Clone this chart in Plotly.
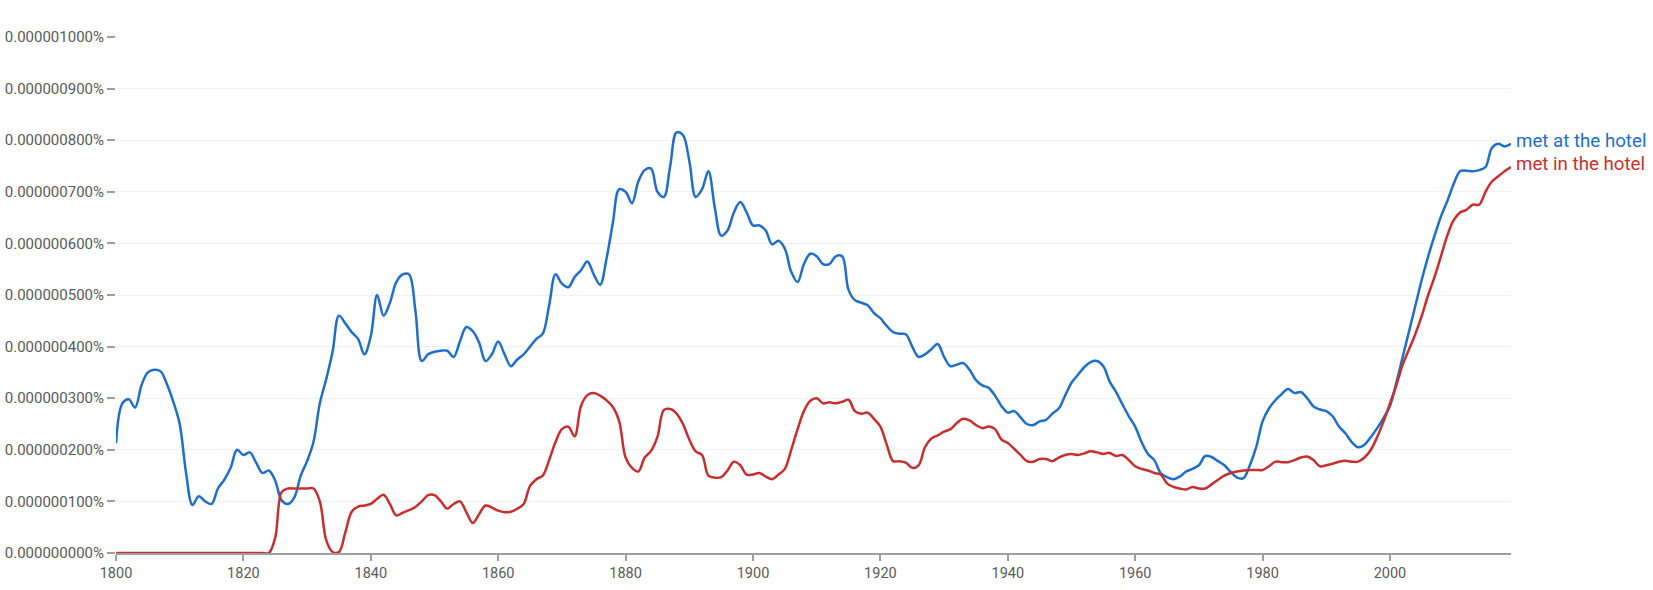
import plotly.graph_objects as go

# Years covered by the chart
years = list(range(1800, 2020))

# Values in units of 0.000000001 % (i.e. 1e-9 percent)
met_at_the_hotel = [
    213, 290, 298, 282, 325, 350, 355, 352, 327, 293,   # 1800-1809
    250, 155, 93, 110, 100, 95, 125, 142, 165, 200,      # 1810-1819
    190, 195, 175, 155, 160, 140, 102, 95, 108, 150,     # 1820-1829
    178, 215, 290, 337, 390, 460, 445, 428, 415, 385,    # 1830-1839
    420, 500, 460, 485, 525, 540, 540, 470, 372, 385,    # 1840-1849
    390, 392, 392, 380, 410, 438, 430, 408, 372, 385,    # 1850-1859
    410, 385, 362, 375, 385, 400, 415, 425, 480, 540,    # 1860-1869
    522, 515, 535, 548, 565, 540, 520, 570, 640, 705,    # 1870-1879
    700, 678, 720, 742, 745, 700, 690, 750, 815, 810,    # 1880-1889
    760, 690, 705, 740, 670, 615, 625, 660, 680, 660,    # 1890-1899
    635, 635, 625, 598, 605, 590, 545, 525, 560, 580,    # 1900-1909
    575, 560, 560, 575, 575, 510, 490, 485, 480, 465,    # 1910-1919
    455, 440, 428, 425, 424, 400, 380, 385, 395, 405,    # 1920-1929
    380, 362, 365, 368, 355, 335, 325, 320, 305, 285,    # 1930-1939
    272, 275, 263, 250, 248, 255, 258, 270, 280, 305,    # 1940-1949
    330, 345, 360, 370, 372, 362, 332, 312, 288, 265,    # 1950-1959
    245, 215, 192, 180, 155, 147, 143, 148, 158, 163,    # 1960-1969
    170, 188, 186, 178, 170, 157, 146, 145, 170, 205,    # 1970-1979
    255, 280, 296, 308, 318, 310, 312, 300, 284, 278,    # 1980-1989
    275, 265, 245, 232, 215, 205, 210, 225, 242, 262,    # 1990-1999
    285, 330, 380, 430, 480, 530, 575, 615, 652, 682,    # 2000-2009
    715, 740, 741, 740, 742, 748, 785, 793, 788, 793,    # 2010-2019
]

met_in_the_hotel = [
    0, 0, 0, 0, 0, 0, 0, 0, 0, 0,                        # 1800-1809
    0, 0, 0, 0, 0, 0, 0, 0, 0, 0,                        # 1810-1819
    0, 0, 0, 0, 0, 30, 118, 125, 125, 125,               # 1820-1829
    125, 125, 100, 25, 2, 2, 40, 80, 90, 92,             # 1830-1839
    95, 105, 113, 95, 73, 78, 83, 89, 100, 112,          # 1840-1849
    112, 100, 86, 95, 100, 79, 58, 75, 92, 88,           # 1850-1859
    82, 79, 80, 86, 95, 130, 143, 150, 180, 215,         # 1860-1869
    240, 245, 226, 285, 306, 310, 305, 296, 283, 255,    # 1870-1879
    185, 165, 158, 185, 198, 225, 277, 279, 270, 250,    # 1880-1889
    220, 197, 190, 150, 146, 147, 160, 177, 170, 152,    # 1890-1899
    152, 155, 148, 143, 152, 163, 200, 240, 275, 295,    # 1900-1909
    300, 290, 292, 290, 293, 297, 275, 270, 272, 260,    # 1910-1919
    245, 210, 178, 178, 175, 165, 170, 205, 222, 228,    # 1920-1929
    235, 240, 252, 260, 257, 248, 242, 245, 240, 220,    # 1930-1939
    213, 202, 190, 178, 177, 182, 182, 178, 185, 190,    # 1940-1949
    192, 190, 193, 197, 195, 192, 194, 188, 190, 180,    # 1950-1959
    168, 163, 160, 155, 152, 135, 128, 125, 123, 128,    # 1960-1969
    125, 125, 133, 142, 150, 155, 158, 160, 161, 161,    # 1970-1979
    161, 168, 177, 176, 176, 180, 185, 187, 180, 168,    # 1980-1989
    170, 173, 177, 179, 177, 177, 185, 200, 225, 255,    # 1990-1999
    290, 325, 365, 395, 425, 460, 500, 535, 575, 615,    # 2000-2009
    645, 660, 665, 675, 675, 700, 720, 730, 740, 748,    # 2010-2019
]

series_names = ["met at the hotel", "met in the hotel"]
series_colors = ["#1f6fc9", "#c5302f"]

y_ticks = [0, 100, 200, 300, 400, 500, 600, 700, 800, 900, 1000]
x_ticks = [1800, 1820, 1840, 1860, 1880, 1900, 1920, 1940, 1960, 1980, 2000]

UNIT = 1e-9  # stored values are in billionths of a percent

fig = go.Figure()
for name, vals, col in zip(series_names, [met_at_the_hotel, met_in_the_hotel], series_colors):
    yv = [v * UNIT for v in vals]
    fig.add_trace(go.Scatter(
        x=years, y=yv, mode="lines", name=name,
        line=dict(color=col, width=2.5, shape="spline", smoothing=1.0),
        showlegend=False, hoverinfo="skip", cliponaxis=False,
    ))
    fig.add_annotation(
        x=years[-1], y=yv[-1], xref="x", yref="y",
        text=name, showarrow=False, xanchor="left", yanchor="middle",
        xshift=3, yshift=3,
        font=dict(family="Roboto", size=18.7, color=col),
    )

fig.update_layout(
    width=1653, height=590,
    margin=dict(l=116, r=142, t=37, b=37, pad=0),
    paper_bgcolor="white", plot_bgcolor="white",
    font=dict(family="Roboto", color="#5a5a5a"),
)

fig.update_xaxes(
    range=[1800, 2019], automargin=False,
    tickvals=x_ticks,
    ticktext=[str(t) for t in x_ticks],
    ticks="outside", ticklen=6, tickwidth=2, tickcolor="#9e9e9e",
    showline=True, linecolor="#9e9e9e", linewidth=2,
    showgrid=False, zeroline=False,
    tickfont=dict(family="Roboto", size=14.5, color="#5a5a5a"),
)

fig.update_yaxes(
    range=[0, 1000 * UNIT], automargin=False,
    tickvals=[t * UNIT for t in y_ticks],
    ticktext=["%.9f%%" % (t * UNIT) for t in y_ticks],
    ticks="outside", ticklen=8, tickwidth=1.5, tickcolor="#9e9e9e",
    showline=False, showgrid=True, gridcolor="#f1f1f1", gridwidth=1,
    zeroline=False,
    tickfont=dict(family="Roboto", size=15, color="#5a5a5a"),
)

# remove the default page margin so the figure sits at the window's top-left corner
fig.write_html(
    "out.html",
    config={"displayModeBar": False},
    post_script="document.body.style.margin='0';document.body.style.overflow='hidden';",
)
